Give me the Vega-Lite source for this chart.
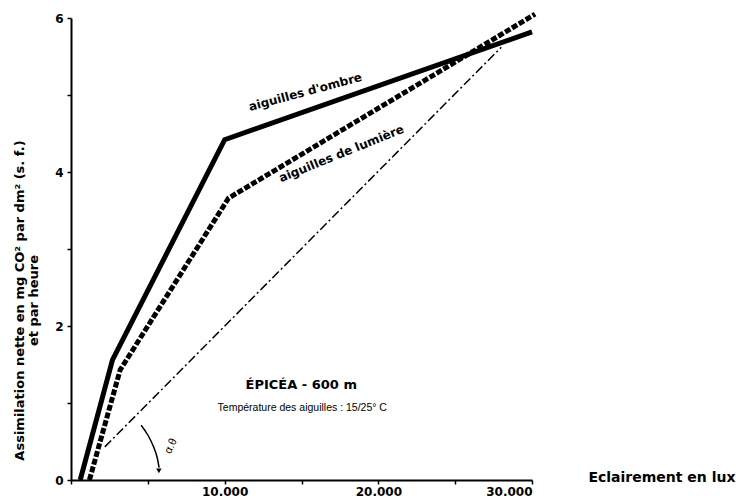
{
  "$schema": "https://vega.github.io/schema/vega-lite/v6.json",
  "width": 461,
  "height": 462,
  "autosize": {"type": "none"},
  "padding": {"left": 71, "top": 18, "right": 208, "bottom": 21},
  "background": "white",
  "config": {"view": {"stroke": null}, "font": "DejaVu Sans"},
  "datasets": {
    "curves": [
      {"series": "ombre", "lux": 600, "assim": 0, "o": 1},
      {"series": "ombre", "lux": 2700, "assim": 1.56, "o": 2},
      {"series": "ombre", "lux": 10000, "assim": 4.42, "o": 3},
      {"series": "ombre", "lux": 30000, "assim": 5.82, "o": 4},
      {"series": "lumiere", "lux": 1200, "assim": 0, "o": 1},
      {"series": "lumiere", "lux": 3200, "assim": 1.43, "o": 2},
      {"series": "lumiere", "lux": 10250, "assim": 3.66, "o": 3},
      {"series": "lumiere", "lux": 30200, "assim": 6.05, "o": 4},
      {"series": "tangente", "lux": 2200, "assim": 0.43, "o": 1},
      {"series": "tangente", "lux": 28000, "assim": 5.62, "o": 2},
      {"series": "arc", "lux": 4564, "assim": 0.712, "o": 1},
      {"series": "arc", "lux": 5019, "assim": 0.578, "o": 2},
      {"series": "arc", "lux": 5371, "assim": 0.432, "o": 3},
      {"series": "arc", "lux": 5599, "assim": 0.299, "o": 4},
      {"series": "arc", "lux": 5735, "assim": 0.161, "o": 5}
    ],
    "arrow": [{"lux": 5720, "assim": 0.12}],
    "labels_ombre": [{"lux": 15245, "assim": 5.04, "text": "aiguilles d'ombre"}],
    "labels_lumiere": [{"lux": 17600, "assim": 4.24, "text": "aiguilles de lumière"}],
    "titre": [{"lux": 14985, "assim": 1.23, "text": "ÉPICÉA - 600 m"}],
    "sous_titre": [{"lux": 15050, "assim": 0.935, "text": "Température des aiguilles : 15/25° C"}],
    "angle": [{"lux": 6515, "assim": 0.44, "text": "α.θ"}]
  },
  "encoding": {
    "x": {
      "field": "lux", "type": "quantitative",
      "scale": {"domain": [0, 30000], "nice": false, "zero": true},
      "axis": {
        "values": [0, 5000, 10000, 15000, 20000, 25000, 30000],
        "labelExpr": "datum.value > 0 && datum.value % 10000 == 0 ? replace(format(datum.value, ','), ',', '.') : ''",
        "grid": false, "domainColor": "black", "domainWidth": 2,
        "tickColor": "black", "tickSize": 4, "tickWidth": 1.5,
        "labelFont": "DejaVu Sans", "labelFontWeight": "bold", "labelFontSize": 12,
        "labelColor": "black", "labelPadding": 2,
        "title": "Eclairement en lux",
        "titleFont": "DejaVu Sans", "titleFontWeight": "bold", "titleFontSize": 14,
        "titleColor": "black", "titleAnchor": null, "titleAlign": "right",
        "titleX": 664, "titleY": -3, "titleBaseline": "middle", "titleAngle": 0
      }
    },
    "y": {
      "field": "assim", "type": "quantitative",
      "scale": {"domain": [0, 6], "nice": false},
      "axis": {
        "values": [0, 1, 2, 3, 4, 5, 6],
        "labelExpr": "datum.value % 2 == 0 ? datum.label : ''",
        "grid": false, "domainColor": "black", "domainWidth": 2,
        "tickColor": "black", "tickSize": 4, "tickWidth": 1.5,
        "labelFont": "DejaVu Sans", "labelFontWeight": "bold", "labelFontSize": 12,
        "labelColor": "black", "labelPadding": 4,
        "title": ["Assimilation nette en mg CO² par dm² (s. f.)", "et par heure              "],
        "titleFont": "DejaVu Sans", "titleFontWeight": "bold", "titleFontSize": 13,
        "titleColor": "black", "titleLineHeight": 14,
        "titleAngle": -90, "titleAlign": "center", "titleBaseline": "bottom",
        "titleX": -45, "titleY": 282, "titleAnchor": null
      }
    }
  },
  "layer": [
    {
      "data": {"name": "curves"},
      "transform": [{"filter": "datum.series == 'ombre'"}],
      "mark": {"type": "line", "color": "black", "strokeWidth": 5, "strokeJoin": "miter", "clip": false},
      "encoding": {"order": {"field": "o"}}
    },
    {
      "data": {"name": "curves"},
      "transform": [{"filter": "datum.series == 'lumiere'"}],
      "mark": {"type": "line", "color": "black", "strokeWidth": 5, "strokeDash": [6, 2], "strokeCap": "butt", "clip": false},
      "encoding": {"order": {"field": "o"}}
    },
    {
      "data": {"name": "curves"},
      "transform": [{"filter": "datum.series == 'tangente'"}],
      "mark": {"type": "line", "color": "black", "strokeWidth": 1.5, "strokeDash": [9, 3, 2, 3]},
      "encoding": {"order": {"field": "o"}}
    },
    {
      "data": {"name": "curves"},
      "transform": [{"filter": "datum.series == 'arc'"}],
      "mark": {"type": "line", "color": "black", "strokeWidth": 1.5, "interpolate": "monotone"},
      "encoding": {"order": {"field": "o"}}
    },
    {
      "data": {"name": "arrow"},
      "mark": {"type": "point", "shape": "triangle-down", "filled": true, "color": "black", "size": 30, "opacity": 1},
      "encoding": {}
    },
    {
      "data": {"name": "labels_ombre"},
      "mark": {"type": "text", "angle": -15, "font": "DejaVu Sans", "fontWeight": "bold", "fontSize": 12, "align": "center", "baseline": "middle", "color": "black"},
      "encoding": {"text": {"field": "text"}}
    },
    {
      "data": {"name": "labels_lumiere"},
      "mark": {"type": "text", "angle": -22, "font": "DejaVu Sans", "fontWeight": "bold", "fontSize": 12, "align": "center", "baseline": "middle", "color": "black"},
      "encoding": {"text": {"field": "text"}}
    },
    {
      "data": {"name": "titre"},
      "mark": {"type": "text", "font": "DejaVu Sans", "fontWeight": "bold", "fontSize": 13, "align": "center", "baseline": "middle", "color": "black"},
      "encoding": {"text": {"field": "text"}}
    },
    {
      "data": {"name": "sous_titre"},
      "mark": {"type": "text", "font": "Liberation Sans", "fontSize": 10.5, "align": "center", "baseline": "middle", "color": "black"},
      "encoding": {"text": {"field": "text"}}
    },
    {
      "data": {"name": "angle"},
      "mark": {"type": "text", "angle": -65, "font": "Liberation Sans", "fontSize": 11, "align": "center", "baseline": "middle", "color": "black"},
      "encoding": {"text": {"field": "text"}}
    }
  ]
}
